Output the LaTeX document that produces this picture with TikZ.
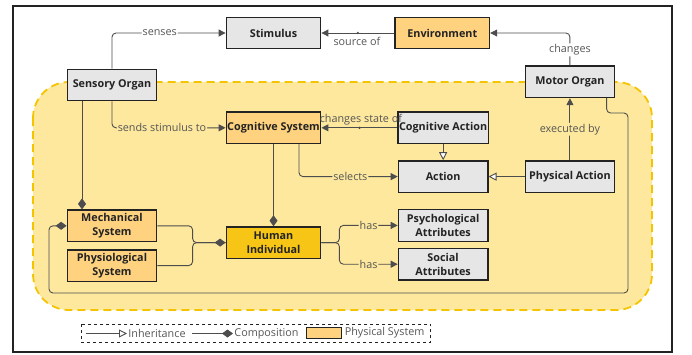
\documentclass[tikz,border=0pt]{standalone}
\usepackage{fontspec}
\setmainfont{Open Sans}
\usetikzlibrary{positioning,arrows.meta}

\definecolor{boxgrey}{HTML}{E6E6E6}
\definecolor{boxline}{HTML}{232323}
\definecolor{physorange}{HTML}{FFD280}
\definecolor{humangold}{HTML}{F7C516}
\definecolor{regionfill}{HTML}{FDE89E}
\definecolor{regiondash}{HTML}{F5C400}
\definecolor{linegrey}{HTML}{4D4D4D}
\definecolor{labelgrey}{HTML}{555555}

\tikzset{
  concept/.style={draw=boxline, line width=1.3pt, fill=boxgrey, text=boxline,
    font=\fontsize{10.8}{14.5}\selectfont\bfseries, align=center,
    minimum width=89.5pt, minimum height=31.5pt, inner sep=1pt},
  wideconcept/.style={concept, minimum width=94.5pt},
  physical/.style={fill=physorange},
  region/.style={draw=regiondash, fill=regionfill, line width=1.8pt,
    dash pattern=on 8pt off 5pt, rounded corners=36pt},
  rel/.style={draw=linegrey, line width=0.9pt, rounded corners=4pt},
  arr/.style={-{Triangle[length=7pt,width=7pt]}},
  comp/.style={-{Diamond[length=11pt,width=8pt]}},
  inh/.style={-{Triangle[length=8pt,width=8pt,fill=white]}},
  lbl/.style={font=\fontsize{10.8}{13}\selectfont, text=labelgrey, fill=white, inner sep=1pt},
  onregion/.style={fill=regionfill},
  plain/.style={font=\fontsize{10.8}{13}\selectfont, text=labelgrey, inner sep=1pt},
  anchordot/.style={circle, fill=linegrey, inner sep=0pt, minimum size=2.6pt},
}

\begin{document}
\begin{tikzpicture}[x=1pt,y=-1pt]
    \useasboundingbox (0,0) rectangle (692,354);
    \draw[line width=1.8pt, draw=boxline] (13,6) rectangle (672,352);
    \draw[region] (33,82) rectangle (652,310);

    \node[wideconcept]                          (stim)     at (273.5,33) {Stimulus};
    \node[wideconcept, physical, right=73pt of stim] (env)  {Environment};
    \node[concept]                              (sensory)  at (112,85) {Sensory Organ};
    \node[wideconcept, physical, below=62pt of stim] (cogsys) {Cognitive System};
    \node[concept, right=76pt of cogsys]        (cogact)   {Cognitive Action};
    \node[concept, below=16pt of cogact]        (action)   {Action};
    \node[concept, right=36pt of action]        (physact)  {Physical Action};
    \node[concept, above=62pt of physact]       (motor)    {Motor Organ};
    \node[concept, below=16pt of action]        (psych)    {Psychological\\Attributes};
    \node[concept, below=6pt of psych]          (social)   {Social\\Attributes};
    \node[wideconcept, fill=humangold, below=82pt of cogsys] (human) {Human\\Individual};
    \node[concept, physical, below=108pt of sensory] (mech)  {Mechanical\\System};
    \node[concept, physical, below=7pt of mech] (physio)   {Physiological\\System};

    \coordinate (hub)   at ([xshift=-33pt]human.west);
    \coordinate (fork)  at ([xshift=18pt]human.east);
    \coordinate (loopR) at (628,113);
    \coordinate (loopB) at (49,293);

    \draw[rel,arr] (sensory.north) |- node[lbl,pos=0.71] {senses} (stim.west);
    \draw[rel,arr] (env.west) -- node[anchordot] {} node[plain,below=3pt,xshift=-1pt] {source of} (stim.east);
    \draw[rel,arr] (motor.north) |- node[lbl,pos=0.24] {changes} (env.east);
    \draw[rel,arr] (physact.north) -- node[lbl,onregion] {executed by} (motor.south);
    \draw[rel,inh] (physact.west) -- (action.east);
    \draw[rel,inh] (cogact.south) -- (action.north);
    \draw[rel,arr] (cogact.west) -- node[anchordot] {} node[plain,above=1pt,xshift=1.5pt] {changes state of} (cogsys.east);
    \draw[rel,arr] ([xshift=25.5pt]cogsys.south) |- node[lbl,onregion,pos=0.76] {selects} (action.west);
    \draw[rel,arr] (sensory.south) |- node[lbl,onregion,pos=0.72] {sends stimulus to} (cogsys.west);
    \draw[rel,comp] (cogsys.south) -- (human.north);
    \draw[rel,comp] ([xshift=-30pt]sensory.south) -- ([xshift=-30pt]mech.north);
    \draw[rel] (physio.east) -| (hub) -- (human.west);
    \draw[rel,comp] (mech.east) -| (hub) -- (human.west);
    \draw[rel,arr] (human.east) -- (fork) |- node[lbl,onregion,pos=0.75] {has} (psych.west);
    \draw[rel,arr] (human.east) -- (fork) |- node[lbl,onregion,pos=0.75] {has} (social.west);
    \draw[rel,comp] ([xshift=36.7pt]motor.south) |- (loopR) |- (loopB) |- (mech.west);

    % legend
    \draw[dashed, line width=0.9pt, draw=boxline] (81.7,324) rectangle (430.7,342.7);
    \coordinate (inhA)  at (86,333.5);
    \coordinate (inhB)  at (127,333.5);
    \coordinate (compA) at (192,333.5);
    \coordinate (compB) at (233,333.5);
    \draw[rel,inh] (inhA) -- (inhB) node[plain,right] {Inheritance};
    \draw[rel,comp] (compA) -- (compB) node[plain,right] {Composition};
    \node[draw=boxline, line width=0.9pt, fill=physorange, minimum width=35pt, minimum height=11.5pt, inner sep=0pt] (physkey) at (323.7,333) {};
    \node[plain, right=2pt of physkey] {Physical System};
\end{tikzpicture}
\end{document}
